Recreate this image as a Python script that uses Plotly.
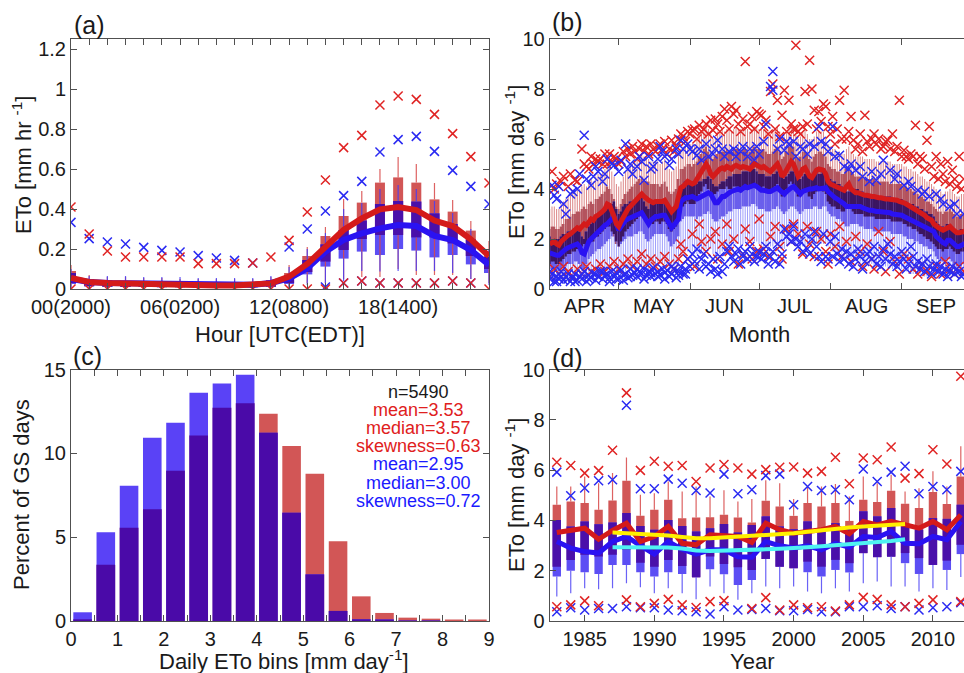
import plotly.graph_objects as go

W, H = 964, 673
FONT = "Liberation Sans, Arial, sans-serif"
INK = "#1a1a1a"
AXIS = "#505050"

RED_BOX = "#d25656"
BLUE_BOX = "#5c4ef4"
DARK_BOX = "#4a10aa"
RED_LINE = "#d41a1a"
BLUE_LINE = "#2a12f2"
RED_X = "#e02424"
BLUE_X = "#2a2af2"

# ---------------- (a) hourly ETo ----------------
hours = list(range(24))
hour_labels = {0: "00(2000)", 6: "06(0200)", 12: "12(0800)", 18: "18(1400)"}

red_med_a = [0.055, 0.035, 0.03, 0.027, 0.025, 0.022, 0.02, 0.019, 0.018, 0.018, 0.02, 0.028,
             0.062, 0.125, 0.21, 0.295, 0.353, 0.398, 0.41, 0.395, 0.342, 0.315, 0.248, 0.165]
blue_med_a = [0.05, 0.035, 0.03, 0.028, 0.026, 0.024, 0.022, 0.021, 0.02, 0.02, 0.021, 0.03,
              0.053, 0.103, 0.187, 0.245, 0.278, 0.303, 0.32, 0.315, 0.265, 0.245, 0.195, 0.12]
red_q1_a = [0.03, 0.015, 0.012, 0.01, 0.01, 0.01, 0.01, 0.01, 0.01, 0.01, 0.01, 0.012,
            0.03, 0.085, 0.137, 0.195, 0.25, 0.27, 0.27, 0.258, 0.258, 0.228, 0.165, 0.10]
red_q3_a = [0.09, 0.05, 0.045, 0.04, 0.04, 0.04, 0.035, 0.035, 0.035, 0.035, 0.035, 0.045,
            0.08, 0.165, 0.265, 0.365, 0.432, 0.532, 0.558, 0.532, 0.448, 0.387, 0.292, 0.19]
blue_q1_a = [0.025, 0.012, 0.01, 0.01, 0.01, 0.008, 0.008, 0.008, 0.008, 0.008, 0.008, 0.01,
             0.025, 0.073, 0.112, 0.152, 0.187, 0.17, 0.2, 0.192, 0.158, 0.17, 0.123, 0.08]
blue_q3_a = [0.08, 0.045, 0.04, 0.04, 0.035, 0.035, 0.035, 0.03, 0.03, 0.03, 0.03, 0.04,
             0.07, 0.145, 0.223, 0.295, 0.342, 0.425, 0.44, 0.437, 0.378, 0.325, 0.248, 0.16]
red_whi_a = [0.12, 0.07, 0.06, 0.06, 0.055, 0.055, 0.05, 0.05, 0.05, 0.05, 0.05, 0.06,
             0.12, 0.21, 0.31, 0.45, 0.49, 0.6, 0.66, 0.625, 0.53, 0.445, 0.34, 0.24]
blue_whi_a = [0.1, 0.065, 0.065, 0.065, 0.06, 0.06, 0.06, 0.055, 0.055, 0.055, 0.055, 0.065,
              0.11, 0.2, 0.28, 0.40, 0.43, 0.5, 0.52, 0.5, 0.44, 0.38, 0.3, 0.2]
red_wlo_a = [0, 0, 0, 0, 0, 0, 0, 0, 0, 0, 0, 0,
             0, 0.03, 0.03, 0.05, 0.06, 0.06, 0.1, 0.07, 0.07, 0.07, 0.05, 0.03]
blue_wlo_a = [0, 0, 0, 0, 0, 0, 0, 0, 0, 0, 0, 0,
              0, 0.02, 0.03, 0.04, 0.09, 0.087, 0.09, 0.09, 0.09, 0.08, 0.05, 0.02]
red_out_hi_a = [0.41, 0.275, 0.19, 0.16, 0.16, 0.16, 0.16, 0.127, 0.127, 0.127, 0.13, 0.16,
                0.243, 0.385, 0.545, 0.707, 0.768, 0.92, 0.965, 0.948, 0.873, 0.777, 0.662, 0.53]
blue_out_hi_a = [0.333, 0.252, 0.235, 0.225, 0.208, 0.193, 0.185, 0.167, 0.155, 0.143, 0.13, None,
                 0.21, 0.30, 0.39, 0.467, 0.538, 0.685, 0.747, 0.763, 0.688, 0.593, 0.513, 0.425]
red_out_lo_a = [0, 0, 0, 0, 0, 0, 0, 0, 0, 0, 0, 0,
                0, 0, 0, 0.03, 0.04, 0.03, 0.03, 0.03, 0.03, 0.04, 0.03, 0]
blue_out_lo_a = [None] * 14 + [0.01, 0.03, 0.04, 0.03, 0.03, 0.03, 0.03, 0.04, 0.03, None]

# ---------------- (b) daily ETo, Apr 1 - Sep 30 ----------------
month_names = ["APR", "MAY", "JUN", "JUL", "AUG", "SEP"]
month_start = [0, 30, 61, 91, 122, 153]
month_mid = [15, 45.5, 76, 106.5, 137.5, 168]

red_med_b = [
    1.8, 1.85, 1.9, 1.8, 1.75, 1.9, 2.0, 2.1, 2.15, 2.2, 2.3, 2.35, 2.45, 2.4, 2.5,
    2.6, 2.55, 2.7, 2.8, 2.75, 2.9, 2.95, 3.0, 3.1, 3.2, 3.4, 3.35, 3.15, 2.9, 2.6,
    2.5, 2.7, 2.9, 3.1, 3.2, 3.3, 3.4, 3.5, 3.6, 3.7, 3.8, 3.7, 3.6, 3.55, 3.5, 3.45,
    3.5, 3.5, 3.45, 3.5, 3.55, 3.4, 3.2, 3.1, 3.2, 3.3, 3.7, 4.05, 4.1, 4.2, 4.3,
    4.25, 4.2, 4.25, 4.4, 4.6, 4.75, 4.9, 5.0, 4.85, 4.6, 4.5, 4.6, 4.75, 4.8, 4.85,
    4.8, 4.9, 4.85, 4.8, 4.9, 4.95, 4.9, 4.85, 4.9, 4.9, 4.85, 4.8, 4.9, 5.0, 4.95,
    4.9, 4.85, 4.9, 4.8, 4.75, 4.7, 4.8, 4.9, 5.0, 4.8, 4.5, 4.6, 4.8, 5.0, 5.1, 5.0,
    4.7, 4.5, 4.6, 4.8, 4.85, 4.7, 4.5, 4.45, 4.6, 4.75, 4.8, 4.8, 4.75, 4.6, 4.3,
    4.2, 4.15, 4.1, 4.05, 4.0, 3.95, 3.95, 4.1, 4.2, 4.0, 3.9, 3.85, 3.85, 3.8, 3.8, 3.75,
    3.75, 3.7, 3.7, 3.7, 3.65, 3.65, 3.65, 3.6, 3.6, 3.6, 3.6, 3.55, 3.55, 3.55, 3.5,
    3.5, 3.45, 3.4, 3.35, 3.3, 3.25, 3.2, 3.15, 3.05, 3.0, 2.95, 2.85, 2.8, 2.75, 2.6,
    2.5, 2.45, 2.4, 2.35, 2.4, 2.45, 2.5, 2.4, 2.3, 2.25, 2.25, 2.3, 2.3, 2.25, 2.2,
]
red_q3_b = [
    2.4, 2.5, 2.5, 2.4, 2.4, 2.5, 2.6, 2.8, 2.8, 2.9, 3.0, 3.0, 3.1, 3.1, 3.2,
    3.3, 3.2, 3.4, 3.5, 3.4, 3.6, 3.6, 3.7, 3.8, 3.9, 4.1, 4.0, 3.8, 3.6, 3.3,
    3.2, 3.4, 3.6, 3.8, 3.9, 4.0, 4.1, 4.2, 4.3, 4.4, 4.5, 4.4, 4.3, 4.3, 4.2, 4.2,
    4.2, 4.2, 4.1, 4.2, 4.3, 4.1, 3.9, 3.8, 3.9, 4.0, 4.4, 4.8, 4.8, 4.9, 5.0,
    5.0, 4.9, 5.0, 5.1, 5.3, 5.4, 5.6, 5.7, 5.5, 5.3, 5.2, 5.3, 5.4, 5.5, 5.5,
    5.5, 5.6, 5.5, 5.5, 5.6, 5.6, 5.6, 5.5, 5.6, 5.6, 5.5, 5.5, 5.6, 5.7, 5.6,
    5.6, 5.5, 5.6, 5.5, 5.4, 5.4, 5.5, 5.6, 5.7, 5.5, 5.2, 5.3, 5.5, 5.7, 5.8, 5.7,
    5.4, 5.2, 5.3, 5.5, 5.5, 5.4, 5.2, 5.1, 5.3, 5.4, 5.5, 5.5, 5.4, 5.3, 5.0,
    4.9, 4.8, 4.8, 4.7, 4.7, 4.6, 4.6, 4.8, 4.9, 4.7, 4.6, 4.5, 4.5, 4.5, 4.5, 4.4,
    4.4, 4.4, 4.4, 4.4, 4.3, 4.3, 4.3, 4.3, 4.3, 4.3, 4.2, 4.2, 4.2, 4.2, 4.2,
    4.2, 4.1, 4.1, 4.0, 4.0, 3.9, 3.9, 3.8, 3.7, 3.7, 3.6, 3.5, 3.5, 3.4, 3.3,
    3.2, 3.1, 3.1, 3.0, 3.1, 3.1, 3.2, 3.1, 3.0, 2.9, 2.9, 3.0, 3.0, 2.9, 2.9,
]
red_q1_b = [
    1.0, 1.1, 1.1, 1.0, 1.0, 1.1, 1.2, 1.3, 1.4, 1.4, 1.5, 1.5, 1.6, 1.6, 1.7,
    1.8, 1.7, 1.9, 2.0, 1.9, 2.1, 2.1, 2.2, 2.3, 2.4, 2.6, 2.5, 2.3, 2.1, 1.8,
    1.7, 1.9, 2.1, 2.3, 2.4, 2.5, 2.6, 2.7, 2.8, 2.9, 3.0, 2.9, 2.8, 2.7, 2.7, 2.6,
    2.7, 2.7, 2.6, 2.7, 2.7, 2.6, 2.4, 2.3, 2.4, 2.5, 2.9, 3.2, 3.3, 3.4, 3.5,
    3.4, 3.4, 3.4, 3.6, 3.8, 3.9, 4.1, 4.2, 4.0, 3.8, 3.7, 3.8, 3.9, 4.0, 4.0,
    4.0, 4.1, 4.0, 4.0, 4.1, 4.1, 4.1, 4.0, 4.1, 4.1, 4.0, 4.0, 4.1, 4.2, 4.1,
    4.1, 4.0, 4.1, 4.0, 3.9, 3.9, 4.0, 4.1, 4.2, 4.0, 3.7, 3.8, 4.0, 4.2, 4.3, 4.2,
    3.9, 3.7, 3.8, 4.0, 4.0, 3.9, 3.7, 3.6, 3.8, 3.9, 4.0, 4.0, 3.9, 3.8, 3.5,
    3.4, 3.3, 3.3, 3.2, 3.2, 3.1, 3.1, 3.3, 3.4, 3.2, 3.1, 3.0, 3.0, 3.0, 3.0, 2.9,
    2.9, 2.9, 2.9, 2.9, 2.8, 2.8, 2.8, 2.8, 2.8, 2.8, 2.8, 2.7, 2.7, 2.7, 2.7,
    2.7, 2.6, 2.6, 2.5, 2.5, 2.4, 2.4, 2.3, 2.2, 2.2, 2.1, 2.0, 2.0, 1.9, 1.8,
    1.7, 1.6, 1.6, 1.5, 1.6, 1.6, 1.7, 1.6, 1.5, 1.4, 1.4, 1.5, 1.5, 1.4, 1.4,
]
red_whi_b = [
    3.2, 3.3, 3.3, 3.2, 3.2, 3.4, 3.5, 3.6, 3.7, 3.8, 3.9, 3.9, 4.0, 4.0, 4.1,
    4.2, 4.1, 4.3, 4.4, 4.3, 4.5, 4.6, 4.6, 4.7, 4.8, 5.0, 4.9, 4.7, 4.5, 4.2,
    4.1, 4.3, 4.5, 4.7, 4.8, 4.9, 5.0, 5.1, 5.2, 5.3, 5.4, 5.3, 5.2, 5.2, 5.1, 5.1,
    5.1, 5.1, 5.0, 5.1, 5.2, 5.0, 4.8, 4.7, 4.8, 4.9, 5.3, 5.6, 5.7, 5.8, 5.9,
    5.8, 5.8, 5.8, 6.0, 6.1, 6.3, 6.4, 6.5, 6.4, 6.2, 6.0, 6.1, 6.3, 6.3, 6.4,
    6.3, 6.4, 6.4, 6.3, 6.4, 6.5, 6.4, 6.4, 6.4, 6.4, 6.4, 6.3, 6.4, 6.5, 6.5,
    6.4, 6.4, 6.4, 6.3, 6.3, 6.2, 6.3, 6.4, 6.5, 6.3, 6.0, 6.1, 6.3, 6.5, 6.6, 6.5,
    6.2, 6.0, 6.1, 6.3, 6.4, 6.2, 6.0, 6.0, 6.1, 6.3, 6.3, 6.3, 6.3, 6.1, 5.8,
    5.7, 5.6, 5.6, 5.5, 5.5, 5.4, 5.4, 5.6, 5.7, 5.5, 5.4, 5.3, 5.3, 5.3, 5.3, 5.2,
    5.2, 5.2, 5.2, 5.2, 5.1, 5.1, 5.1, 5.1, 5.1, 5.1, 5.1, 5.0, 5.0, 5.0, 5.0,
    5.0, 4.9, 4.9, 4.8, 4.8, 4.7, 4.7, 4.6, 4.5, 4.5, 4.4, 4.3, 4.3, 4.2, 4.1,
    4.0, 3.9, 3.9, 3.8, 3.9, 3.9, 4.0, 3.9, 3.8, 3.7, 3.7, 3.8, 3.8, 3.7, 3.7,
]
blue_med_b = [
    1.45, 1.4, 1.4, 1.35, 1.35, 1.45, 1.55, 1.6, 1.65, 1.7, 1.7, 1.75, 1.8, 1.7, 1.45,
    1.4, 1.7, 1.9, 2.0, 2.1, 2.2, 2.3, 2.35, 2.45, 2.55, 2.6, 2.7, 2.8, 2.9, 2.6,
    2.35, 2.5, 2.65, 2.75, 2.8, 2.85, 2.85, 2.9, 2.95, 3.0, 3.05, 2.9, 2.7, 2.6, 2.75, 2.85,
    2.9, 2.9, 2.95, 2.95, 2.95, 2.8, 2.6, 2.45, 2.55, 2.65, 2.8, 3.5, 3.6, 3.65, 3.65,
    3.7, 3.7, 3.65, 3.6, 3.65, 3.7, 3.75, 3.8, 3.85, 3.8, 3.6, 3.45, 3.45, 3.6, 3.7,
    3.7, 3.8, 3.85, 3.9, 3.95, 4.0, 4.0, 3.95, 4.05, 4.1, 4.05, 4.1, 4.15, 4.15, 4.1,
    4.0, 3.95, 3.95, 3.9, 3.9, 3.9, 3.95, 4.0, 4.05, 3.95, 3.85, 3.8, 3.9, 4.0, 4.05, 4.1,
    4.0, 3.85, 3.8, 3.9, 3.95, 3.95, 4.0, 4.0, 4.05, 4.05, 4.0, 4.0, 4.05, 4.05, 3.9,
    3.8, 3.7, 3.65, 3.6, 3.55, 3.5, 3.4, 3.3, 3.3, 3.35, 3.35, 3.35, 3.35, 3.3, 3.25, 3.2,
    3.15, 3.15, 3.15, 3.1, 3.1, 3.1, 3.1, 3.05, 3.05, 3.05, 3.05, 3.0, 3.0, 3.0, 2.95,
    2.95, 2.9, 2.85, 2.8, 2.75, 2.75, 2.7, 2.65, 2.6, 2.55, 2.5, 2.45, 2.4, 2.35, 2.3,
    2.1, 2.0, 1.9, 1.85, 1.8, 1.95, 1.95, 1.85, 1.75, 1.7, 1.7, 1.75, 1.8, 1.75, 1.75,
]
blue_q3_b = [
    2.1, 2.0, 2.0, 2.0, 2.0, 2.1, 2.2, 2.2, 2.3, 2.3, 2.3, 2.4, 2.4, 2.3, 2.1,
    2.0, 2.3, 2.5, 2.6, 2.7, 2.8, 2.9, 3.0, 3.1, 3.2, 3.2, 3.3, 3.4, 3.5, 3.2,
    3.0, 3.1, 3.3, 3.4, 3.4, 3.5, 3.5, 3.5, 3.6, 3.6, 3.7, 3.5, 3.3, 3.2, 3.4, 3.5,
    3.5, 3.5, 3.6, 3.6, 3.6, 3.4, 3.2, 3.1, 3.2, 3.3, 3.4, 4.1, 4.2, 4.3, 4.3,
    4.3, 4.3, 4.3, 4.2, 4.3, 4.3, 4.4, 4.4, 4.5, 4.4, 4.2, 4.1, 4.1, 4.2, 4.3,
    4.3, 4.4, 4.5, 4.5, 4.6, 4.6, 4.6, 4.6, 4.7, 4.7, 4.7, 4.7, 4.8, 4.8, 4.7,
    4.6, 4.6, 4.6, 4.5, 4.5, 4.5, 4.6, 4.6, 4.7, 4.6, 4.5, 4.4, 4.5, 4.6, 4.7, 4.7,
    4.6, 4.5, 4.4, 4.5, 4.6, 4.6, 4.6, 4.6, 4.7, 4.7, 4.6, 4.6, 4.7, 4.7, 4.5,
    4.4, 4.3, 4.3, 4.2, 4.2, 4.1, 4.0, 3.9, 3.9, 4.0, 4.0, 4.0, 4.0, 3.9, 3.9, 3.8,
    3.8, 3.8, 3.8, 3.7, 3.7, 3.7, 3.7, 3.7, 3.7, 3.7, 3.7, 3.6, 3.6, 3.6, 3.6,
    3.6, 3.5, 3.5, 3.4, 3.4, 3.4, 3.3, 3.3, 3.2, 3.2, 3.1, 3.1, 3.0, 3.0, 2.9,
    2.7, 2.6, 2.5, 2.5, 2.4, 2.6, 2.6, 2.5, 2.4, 2.3, 2.3, 2.4, 2.4, 2.4, 2.4,
]
blue_q1_b = [
    0.8, 0.8, 0.8, 0.7, 0.7, 0.8, 0.9, 0.9, 1.0, 1.0, 1.0, 1.1, 1.1, 1.0, 0.8,
    0.8, 1.0, 1.2, 1.3, 1.4, 1.5, 1.6, 1.6, 1.7, 1.8, 1.9, 2.0, 2.1, 2.2, 1.9,
    1.7, 1.8, 1.9, 2.0, 2.1, 2.1, 2.1, 2.2, 2.2, 2.3, 2.3, 2.2, 2.0, 1.9, 2.0, 2.1,
    2.2, 2.2, 2.2, 2.2, 2.2, 2.1, 1.9, 1.7, 1.8, 1.9, 2.1, 2.7, 2.8, 2.9, 2.9,
    2.9, 2.9, 2.9, 2.8, 2.9, 2.9, 3.0, 3.0, 3.1, 3.0, 2.8, 2.7, 2.7, 2.8, 2.9,
    2.9, 3.0, 3.1, 3.1, 3.2, 3.2, 3.2, 3.2, 3.3, 3.3, 3.3, 3.3, 3.4, 3.4, 3.3,
    3.2, 3.2, 3.2, 3.1, 3.1, 3.1, 3.2, 3.2, 3.3, 3.2, 3.1, 3.0, 3.1, 3.2, 3.3, 3.3,
    3.2, 3.1, 3.0, 3.1, 3.2, 3.2, 3.2, 3.2, 3.3, 3.3, 3.2, 3.2, 3.3, 3.3, 3.1,
    3.0, 2.9, 2.9, 2.8, 2.8, 2.7, 2.6, 2.5, 2.5, 2.6, 2.6, 2.6, 2.6, 2.5, 2.5, 2.4,
    2.4, 2.4, 2.4, 2.3, 2.3, 2.3, 2.3, 2.3, 2.3, 2.3, 2.3, 2.2, 2.2, 2.2, 2.2,
    2.2, 2.1, 2.1, 2.0, 2.0, 2.0, 1.9, 1.9, 1.8, 1.8, 1.7, 1.7, 1.6, 1.6, 1.5,
    1.3, 1.2, 1.1, 1.1, 1.0, 1.2, 1.2, 1.1, 1.0, 0.9, 0.9, 1.0, 1.0, 1.0, 1.0,
]
blue_wlo_b = [
    0.5, 0.5, 0.5, 0.5, 0.5, 0.5, 0.5, 0.5, 0.5, 0.5, 0.5, 0.5, 0.5, 0.5, 0.5,
    0.5, 0.5, 0.5, 0.5, 0.5, 0.5, 0.5, 0.5, 0.5, 0.5, 0.6, 0.7, 0.8, 0.9, 0.7,
    0.6, 0.6, 0.7, 0.7, 0.8, 0.8, 0.8, 0.9, 0.9, 1.0, 1.0, 0.9, 0.8, 0.7, 0.8, 0.9,
    0.9, 0.9, 1.0, 1.0, 1.0, 0.9, 0.7, 0.6, 0.7, 0.8, 0.9, 1.3, 1.4, 1.5, 1.5,
    1.5, 1.5, 1.4, 1.4, 1.4, 1.5, 1.5, 1.6, 1.6, 1.6, 1.4, 1.3, 1.3, 1.4, 1.5,
    1.5, 1.6, 1.6, 1.7, 1.7, 1.8, 1.8, 1.7, 1.8, 1.9, 1.8, 1.9, 1.9, 1.9, 1.9,
    1.8, 1.7, 1.7, 1.7, 1.7, 1.7, 1.7, 1.8, 1.8, 1.7, 1.6, 1.6, 1.7, 1.8, 1.8, 1.9,
    1.8, 1.6, 1.6, 1.7, 1.7, 1.7, 1.8, 1.8, 1.8, 1.8, 1.8, 1.8, 1.8, 1.8, 1.7,
    1.6, 1.5, 1.5, 1.4, 1.4, 1.3, 1.2, 1.1, 1.1, 1.2, 1.2, 1.2, 1.2, 1.1, 1.1, 1.0,
    1.0, 1.0, 1.0, 0.9, 0.9, 0.9, 0.9, 0.9, 0.9, 0.9, 0.9, 0.8, 0.8, 0.8, 0.8,
    0.8, 0.7, 0.7, 0.7, 0.6, 0.6, 0.6, 0.6, 0.6, 0.6, 0.5, 0.5, 0.5, 0.5, 0.5,
    0.5, 0.5, 0.5, 0.5, 0.5, 0.5, 0.5, 0.5, 0.5, 0.5, 0.5, 0.5, 0.5, 0.5, 0.5,
]

# outliers as (day index, mm/day)
red_out_hi_b = [
    (1, 4.7), (2, 4.0), (5, 4.3), (8, 4.1), (11, 4.35), (14, 5.6), (16, 4.9), (18, 5.3),
    (21, 5.1), (23, 5.0), (26, 5.4), (28, 5.3), (30, 5.0), (33, 5.3), (36, 5.7), (39, 5.6),
    (42, 5.7), (45, 5.6), (48, 5.8), (51, 5.4), (53, 5.95), (55, 5.7), (58, 6.1), (60, 6.3),
    (62, 6.35), (65, 6.55), (67, 6.4), (70, 6.75), (71, 6.35), (73, 6.6), (75, 6.9), (77, 6.75),
    (79, 7.3), (81, 7.15), (82, 6.6), (85, 9.1), (86, 6.5), (88, 6.9), (90, 7.1), (92, 6.95),
    (94, 6.75), (96, 7.9), (97, 8.2), (99, 7.55), (101, 6.95), (102, 7.95), (104, 7.55),
    (107, 9.75), (107, 6.4), (110, 6.5), (111, 7.9), (113, 9.15), (114, 8.0), (115, 7.15),
    (117, 7.1), (119, 7.4), (120, 7.3), (123, 6.9), (126, 7.55), (128, 7.95), (129, 6.0),
    (132, 5.95), (135, 6.2), (137, 6.95), (140, 6.0), (142, 5.8), (145, 5.7), (147, 5.95),
    (149, 6.2), (152, 7.55), (154, 5.55), (157, 5.4), (159, 6.55), (161, 5.3), (164, 5.95),
    (165, 6.5), (168, 5.3), (170, 5.0), (173, 5.1), (175, 4.75), (178, 5.3),
    (3, 4.2), (6, 4.5), (9, 4.6), (12, 4.3), (15, 5.0), (17, 4.8), (19, 5.0), (20, 5.2),
    (22, 5.2), (24, 5.4), (25, 5.0), (27, 5.1), (29, 5.2), (31, 5.1), (32, 5.5), (34, 5.6),
    (35, 5.4), (37, 5.5), (38, 5.2), (40, 5.8), (41, 5.5), (43, 5.4), (44, 5.8), (46, 5.5),
    (47, 5.7), (49, 5.6), (50, 5.9), (52, 5.6), (54, 5.5), (56, 6.0), (57, 6.2), (59, 5.9),
    (61, 6.2), (63, 6.4), (64, 6.0), (66, 6.3), (68, 6.6), (69, 6.2), (72, 6.8), (74, 6.3),
    (76, 7.2), (78, 6.4), (80, 7.0), (83, 6.3), (84, 6.8), (87, 6.6), (89, 6.4), (91, 7.0),
    (93, 6.5), (95, 6.2), (98, 6.4), (100, 6.1), (103, 6.3), (105, 6.6), (106, 6.4), (108, 6.3),
    (109, 6.2), (112, 6.6), (116, 6.4), (118, 6.7), (121, 6.5), (122, 6.2), (124, 5.8),
    (125, 6.4), (127, 6.0), (130, 6.3), (131, 6.9), (133, 5.6), (134, 5.8), (136, 5.5),
    (138, 5.9), (139, 5.7), (141, 6.2), (143, 6.0), (144, 5.6), (146, 5.9), (148, 5.6),
    (150, 5.5), (151, 5.7), (153, 5.3), (155, 5.3), (156, 5.2), (158, 5.3), (160, 5.0),
    (162, 5.2), (163, 4.8), (166, 4.9), (167, 4.5), (169, 4.4), (171, 4.6), (172, 4.3),
    (174, 4.2), (176, 4.4), (177, 4.1), (179, 4.0), (180, 4.4),
]
blue_out_hi_b = [
    (1, 4.15), (2, 3.75), (4, 4.1), (7, 3.0), (10, 3.9), (13, 4.6), (15, 6.15), (18, 4.15),
    (20, 4.9), (23, 4.3), (25, 5.2), (28, 4.95), (31, 5.15), (33, 5.8), (34, 4.8), (36, 4.6),
    (39, 5.3), (41, 4.35), (43, 5.3), (45, 4.9), (48, 5.7), (50, 5.3), (52, 4.95), (55, 5.6),
    (57, 5.95), (60, 5.8), (62, 5.5), (64, 5.35), (66, 5.15), (68, 5.8), (71, 5.4), (73, 5.95),
    (76, 5.3), (78, 5.5), (81, 5.3), (84, 5.7), (86, 5.3), (89, 5.15), (91, 5.4), (94, 6.6),
    (96, 8.1), (97, 8.7), (97, 7.95), (100, 6.0), (102, 5.55), (104, 5.8), (107, 5.3),
    (109, 5.7), (112, 5.4), (115, 5.7), (117, 6.5), (120, 5.8), (123, 6.5), (126, 5.35),
    (128, 4.9), (131, 5.0), (133, 4.75), (136, 4.5), (139, 4.3), (142, 4.35), (145, 5.15),
    (148, 4.75), (151, 4.6), (154, 4.15), (157, 4.1), (160, 3.95), (162, 3.8), (165, 3.7),
    (168, 3.8), (171, 3.4), (174, 3.3), (177, 3.0), (180, 3.0),
    (3, 3.6), (6, 3.4), (9, 3.8), (12, 4.0), (16, 4.4), (19, 4.5), (21, 4.7), (24, 4.6),
    (27, 5.0), (30, 4.7), (35, 5.0), (38, 4.9), (40, 5.1), (44, 4.8), (47, 5.2), (49, 5.5),
    (53, 5.2), (56, 5.4), (58, 5.6), (61, 5.6), (65, 5.6), (69, 5.3), (72, 5.6), (75, 5.6),
    (80, 5.6), (83, 5.5), (87, 5.6), (90, 5.7), (93, 5.9), (99, 5.6), (103, 5.9), (106, 5.9),
    (110, 5.6), (113, 5.8), (118, 5.9), (121, 5.5), (124, 5.3), (130, 4.8), (135, 4.9),
    (140, 4.7), (144, 4.6), (150, 4.4), (156, 4.3), (163, 3.9), (170, 3.6), (176, 3.4),
]
red_out_lo_b = [
    (0, 0.5), (2, 0.8), (4, 0.6), (6, 0.9), (8, 0.7), (10, 0.5), (12, 0.8), (14, 0.6),
    (16, 0.9), (18, 0.7), (20, 0.8), (22, 1.0), (24, 0.7), (26, 0.9), (28, 1.1), (30, 0.8),
    (32, 1.0), (34, 1.2), (36, 0.9), (38, 1.1), (40, 1.4), (42, 1.0), (44, 1.2), (46, 0.9),
    (48, 1.1), (50, 1.3), (52, 1.0), (54, 0.8), (56, 1.2), (57, 1.8), (58, 1.5), (60, 1.2),
    (62, 2.2), (63, 0.9), (65, 2.6), (66, 1.9), (68, 1.5), (70, 2.0), (72, 2.3), (73, 1.2),
    (75, 1.8), (77, 2.6), (78, 1.5), (80, 2.0), (82, 1.0), (84, 1.4), (85, 2.4), (87, 1.9),
    (88, 1.2), (90, 1.5), (91, 2.8), (93, 1.6), (95, 1.3), (96, 2.1), (98, 2.5), (100, 1.7),
    (101, 1.2), (103, 2.4), (105, 1.9), (106, 2.6), (108, 2.2), (110, 1.4), (112, 2.5),
    (113, 1.8), (115, 1.3), (116, 2.3), (118, 2.0), (120, 1.5), (121, 1.0), (122, 2.2),
    (124, 1.7), (126, 2.5), (127, 1.3), (129, 1.9), (131, 1.1), (133, 2.1), (135, 1.5),
    (136, 0.9), (138, 1.8), (140, 1.2), (141, 0.8), (143, 2.3), (145, 1.5), (146, 0.7),
    (148, 1.9), (150, 1.1), (152, 0.6), (154, 1.4), (156, 1.2), (158, 0.8), (160, 0.6),
    (162, 1.0), (164, 0.7), (166, 0.5), (168, 0.9), (170, 0.6), (172, 1.1), (174, 0.8),
    (176, 0.6), (178, 0.9), (180, 0.7),
]
blue_out_lo_b = [
    (0, 0.4), (1, 0.6), (2, 0.3), (3, 0.5), (4, 0.4), (5, 0.7), (6, 0.35), (7, 0.5), (8, 0.6),
    (9, 0.3), (10, 0.45), (11, 0.6), (12, 0.35), (13, 0.5), (14, 0.4), (15, 0.7), (16, 0.3),
    (17, 0.55), (18, 0.45), (19, 0.6), (20, 0.35), (21, 0.5), (22, 0.7), (23, 0.4), (24, 0.55),
    (25, 0.6), (26, 0.45), (27, 0.7), (28, 0.5), (29, 0.65), (30, 0.4), (31, 0.75), (32, 0.55),
    (33, 0.6), (34, 0.45), (35, 0.8), (36, 0.55), (37, 0.65), (38, 0.5), (39, 0.7), (40, 0.6),
    (41, 0.8), (42, 0.55), (43, 0.7), (44, 0.5), (45, 0.85), (46, 0.6), (47, 0.7), (48, 0.55),
    (49, 0.8), (50, 0.65), (51, 0.75), (52, 0.5), (53, 0.6), (54, 0.8), (55, 0.45), (56, 0.7),
    (57, 0.9), (58, 0.6), (59, 0.8), (60, 1.2), (61, 0.9), (62, 1.4), (63, 1.1), (64, 1.6),
    (65, 0.8), (66, 1.2), (67, 1.4), (68, 0.9), (69, 1.0), (70, 0.7), (71, 1.2), (72, 0.8),
    (73, 0.6), (74, 1.3), (75, 0.7), (76, 1.0), (77, 1.5), (78, 1.7), (79, 1.3), (80, 1.1),
    (81, 1.4), (82, 1.6), (83, 1.0), (84, 1.3), (85, 1.5), (86, 1.2), (87, 1.7), (88, 1.4),
    (89, 1.1), (90, 1.3), (91, 1.5), (92, 1.2), (93, 1.4), (94, 1.7), (95, 1.0), (96, 1.3),
    (97, 1.5), (98, 1.1), (99, 1.8), (100, 1.0), (101, 1.4), (102, 2.4), (103, 2.1), (104, 2.2),
    (105, 1.9), (106, 2.5), (107, 2.0), (108, 1.7), (109, 1.9), (110, 1.5), (111, 2.2),
    (112, 1.6), (113, 1.4), (114, 2.0), (115, 2.3), (116, 1.7), (117, 1.3), (118, 1.1),
    (119, 2.2), (120, 1.3), (121, 1.2), (122, 1.9), (123, 1.3), (124, 2.1), (125, 1.4),
    (126, 1.1), (127, 1.6), (128, 1.2), (129, 1.5), (130, 1.0), (131, 1.4), (132, 0.9),
    (133, 1.2), (134, 1.6), (135, 1.3), (136, 0.8), (137, 1.1), (138, 1.4), (139, 1.5),
    (140, 1.2), (141, 1.7), (142, 1.0), (143, 1.3), (144, 0.9), (145, 1.6), (146, 1.2),
    (147, 1.8), (148, 1.4), (149, 1.0), (150, 1.3), (151, 0.9), (152, 1.1), (153, 1.5),
    (154, 1.2), (155, 0.8), (156, 1.0), (157, 1.7), (158, 1.3), (159, 0.9), (160, 1.1),
    (161, 0.8), (162, 1.0), (163, 0.7), (164, 1.2), (165, 0.9), (166, 0.6), (167, 0.8),
    (168, 1.0), (169, 0.7), (170, 0.9), (171, 0.6), (172, 0.8), (173, 0.5), (174, 0.7),
    (175, 0.9), (176, 0.6), (177, 0.8), (178, 0.7), (179, 0.5), (180, 0.6),
    (0, 0.7), (3, 0.3), (5, 0.5), (8, 0.4), (11, 0.3), (14, 0.6), (17, 0.4), (20, 0.6),
    (23, 0.7), (26, 0.3), (29, 0.4), (32, 0.35), (35, 0.5), (38, 0.8), (41, 0.4), (44, 0.65),
    (47, 0.5), (50, 0.4), (53, 0.9), (56, 0.55), (59, 0.6),
]

# ---------------- (c) histogram of daily ETo ----------------
bin_centers = [0.25, 0.75, 1.25, 1.75, 2.25, 2.75, 3.25, 3.75, 4.25,
               4.75, 5.25, 5.75, 6.25, 6.75, 7.25, 7.75, 8.25, 8.75]
blue_pct = [0.52, 5.30, 8.07, 10.93, 11.82, 13.61, 14.17, 14.68, 11.23,
            6.46, 2.78, 0.60, 0.10, 0.06, 0.02, 0.01, 0.0, 0.0]
red_pct = [0.10, 3.36, 5.56, 6.66, 8.96, 11.07, 12.72, 12.99, 12.36,
           10.43, 8.78, 4.75, 1.47, 0.48, 0.20, 0.14, 0.06, 0.06]
stats_lines = [("n=5490", INK), ("mean=3.53", "#e02020"), ("median=3.57", "#e02020"),
               ("skewness=0.63", "#e02020"), ("mean=2.95", "#1a1aff"),
               ("median=3.00", "#1a1aff"), ("skewness=0.72", "#1a1aff")]

# ---------------- (d) yearly ETo ----------------
years = list(range(1983, 2013))
red_med_d = [3.52, 3.6, 3.69, 3.25, 3.6, 3.89, 3.16, 3.36, 3.76, 3.09, 3.03, 3.43, 3.39, 3.36, 3.12,
             3.89, 3.63, 3.49, 3.56, 3.63, 3.76, 3.47, 3.96, 3.82, 3.96, 3.82, 3.69, 3.96, 3.63, 4.22]
blue_med_d = [3.16, 2.9, 2.76, 2.7, 3.16, 3.36, 3.0, 2.66, 3.16, 2.85, 2.66, 2.83, 2.83, 2.55, 2.54,
              3.16, 2.99, 2.9, 2.99, 2.83, 3.09, 2.93, 3.36, 3.32, 3.56, 3.09, 3.07, 3.36, 3.23, 3.96]
red_q3_d = [4.62, 4.75, 4.69, 4.42, 4.79, 5.58, 4.18, 4.42, 4.82, 4.09, 4.12, 4.13, 4.22, 4.12, 3.92,
            4.78, 4.55, 4.18, 4.69, 4.55, 4.69, 3.98, 4.82, 4.73, 5.18, 4.66, 4.49, 5.13, 4.65, 5.75]
blue_q3_d = [4.02, 3.76, 3.96, 3.85, 3.92, 4.29, 3.78, 3.63, 4.02, 3.78, 3.56, 3.69, 3.86, 3.52, 3.82,
             4.16, 3.76, 3.65, 3.96, 3.63, 3.89, 3.72, 4.36, 4.16, 4.49, 3.76, 3.63, 4.09, 4.06, 4.62]
red_q1_d = [2.16, 2.43, 2.63, 2.56, 2.63, 2.83, 2.32, 2.16, 2.43, 2.19, 1.74, 2.56, 2.27, 2.14, 2.03,
            2.47, 2.16, 2.10, 2.36, 2.16, 2.43, 2.30, 2.70, 2.54, 2.56, 2.70, 2.50, 2.23, 2.40, 3.03]
blue_q1_d = [1.77, 2.0, 1.94, 1.87, 2.23, 2.23, 1.94, 1.77, 1.94, 1.87, 1.74, 2.06, 1.86, 1.43, 1.63,
             2.47, 2.16, 2.10, 1.94, 1.77, 2.03, 1.93, 2.70, 2.54, 2.56, 2.30, 1.87, 2.23, 2.03, 2.66]
red_whi_d = [5.35, 5.35, 5.75, 5.48, 5.88, 6.5, 5.02, 5.08, 5.55, 5.15, 5.35, 4.95, 5.2, 4.75, 4.85,
             5.6, 5.48, 4.85, 5.35, 5.35, 5.45, 4.95, 5.75, 5.48, 5.82, 5.15, 5.28, 5.95, 5.35, 6.95]
blue_wlo_d = [0.97, 1.1, 1.3, 1.26, 1.3, 1.5, 1.34, 1.1, 1.3, 1.1, 0.86, 1.37, 1.1, 0.84, 1.1,
              1.37, 1.3, 1.37, 1.17, 1.1, 1.3, 1.17, 1.5, 1.57, 1.37, 1.37, 1.17, 1.3, 1.23, 1.75]
red_out_hi_d = [6.31, 6.18, 5.88, 5.98, 6.79, 9.07, 5.99, 6.35, 6.15, 6.18, 5.55, 6.08, 6.22, 6.08, 5.84,
                6.02, 6.11, 6.12, 5.88, 5.95, 6.51, 5.46, 6.48, 6.41, 6.92, 5.68, 5.86, 6.81, 6.24, 9.73]
blue_out_hi_d = [5.92, 4.98, 5.29, 5.58, 5.62, 8.58, 5.26, 5.26, 5.64, 5.48, 5.19, 5.09, 5.84, 5.06, 5.22,
                 5.78, 5.84, 4.62, 5.35, 5.19, 5.22, 4.82, 6.04, 5.55, 5.92, 6.15, 5.06, 5.35, 5.22, 5.95]
red_out_lo_d = [0.57, 0.64, 0.8, 0.61, None, 0.84, 0.57, 0.7, 0.86, 0.64, 0.54, 0.77, 0.81, None, 0.5,
                0.93, 0.44, 0.64, 0.53, 0.57, 0.4, 0.64, 0.94, 0.86, 0.64, 0.57, 0.7, 0.84, None, 0.77]
blue_out_lo_d = [0.37, 0.53, 0.44, 0.5, 0.5, 0.57, 0.53, 0.53, 0.44, 0.41, 0.37, 0.28, 0.57, 0.44, 0.46,
                 0.5, 0.41, 0.41, 0.46, 0.37, 0.37, 0.57, 0.57, 0.61, 0.5, 0.57, 0.44, 0.53, 0.57, 0.73]
trend_years = list(range(1987, 2009))
red_trend_d = [3.52, 3.50, 3.47, 3.44, 3.40, 3.34, 3.29, 3.29, 3.32, 3.34, 3.37,
               3.42, 3.45, 3.49, 3.55, 3.61, 3.68, 3.72, 3.76, 3.79, 3.82, 3.86]
blue_trend_d = [2.93, 2.93, 2.93, 2.93, 2.92, 2.88, 2.80, 2.78, 2.79, 2.80, 2.82,
                2.85, 2.87, 2.89, 2.93, 2.97, 3.01, 3.05, 3.09, 3.13, 3.18, 3.25]


# ---------------- helpers ----------------
def boxes(x, lo, hi, color, width, xa, ya):
    return go.Bar(x=x, y=[h - l for l, h in zip(lo, hi)], base=lo, width=width,
                  marker=dict(color=color, line=dict(width=0)),
                  xaxis=xa, yaxis=ya, showlegend=False, hoverinfo="skip")


def overlap_boxes(x, lo1, hi1, lo2, hi2, color, width, xa, ya):
    lo = [max(a, b) for a, b in zip(lo1, lo2)]
    hi = [min(a, b) for a, b in zip(hi1, hi2)]
    hi = [h if h > l else l for l, h in zip(lo, hi)]
    return boxes(x, lo, hi, color, width, xa, ya)


def stems(x, lo, hi, color, width, xa, ya):
    xs, ys = [], []
    for xv, a, b in zip(x, lo, hi):
        xs += [xv, xv, None]
        ys += [a, b, None]
    return go.Scatter(x=xs, y=ys, mode="lines", line=dict(color=color, width=width),
                      xaxis=xa, yaxis=ya, showlegend=False, hoverinfo="skip")


def crosses(x, y, color, size, xa, ya):
    return go.Scatter(x=x, y=y, mode="markers",
                      marker=dict(symbol="x-thin", size=size, color=color,
                                  line=dict(width=1.5, color=color)),
                      xaxis=xa, yaxis=ya, showlegend=False, hoverinfo="skip")


def curve(x, y, color, width, xa, ya):
    return go.Scatter(x=x, y=y, mode="lines", line=dict(color=color, width=width),
                      xaxis=xa, yaxis=ya, showlegend=False, hoverinfo="skip")


fig = go.Figure()

# (a)
fig.add_trace(boxes(hours, red_q1_a, red_q3_a, RED_BOX, 0.55, "x", "y"))
fig.add_trace(boxes(hours, blue_q1_a, blue_q3_a, BLUE_BOX, 0.55, "x", "y"))
fig.add_trace(overlap_boxes(hours, red_q1_a, red_q3_a, blue_q1_a, blue_q3_a, DARK_BOX, 0.55, "x", "y"))
fig.add_trace(stems(hours, red_q3_a, red_whi_a, "rgba(215,70,70,0.85)", 1.2, "x", "y"))
fig.add_trace(stems(hours, red_wlo_a, red_q1_a, "rgba(215,70,70,0.85)", 1.2, "x", "y"))
fig.add_trace(stems(hours, blue_q3_a, blue_whi_a, "rgba(70,60,245,0.85)", 1.2, "x", "y"))
fig.add_trace(stems(hours, blue_wlo_a, blue_q1_a, "rgba(70,60,245,0.85)", 1.2, "x", "y"))
fig.add_trace(crosses(hours, blue_out_hi_a, BLUE_X, 9, "x", "y"))
fig.add_trace(crosses(hours, red_out_hi_a, RED_X, 9, "x", "y"))
fig.add_trace(crosses(hours, blue_out_lo_a, BLUE_X, 9, "x", "y"))
fig.add_trace(crosses(hours, red_out_lo_a, RED_X, 9, "x", "y"))
fig.add_trace(curve(hours, blue_med_a, BLUE_LINE, 6, "x", "y"))
fig.add_trace(curve(hours, red_med_a, RED_LINE, 6, "x", "y"))

# (b)
days = list(range(len(red_med_b)))
fig.add_trace(boxes(days, red_q1_b, red_q3_b, "#b4545e", 0.85, "x2", "y2"))
fig.add_trace(boxes(days, blue_q1_b, blue_q3_b, "#6a5fec", 0.85, "x2", "y2"))
fig.add_trace(overlap_boxes(days, red_q1_b, red_q3_b, blue_q1_b, blue_q3_b, "#3c1662", 0.85, "x2", "y2"))
fig.add_trace(stems(days, red_q3_b, red_whi_b, "rgba(205,85,85,0.7)", 1, "x2", "y2"))
fig.add_trace(stems(days, blue_wlo_b, blue_q1_b, "rgba(120,120,250,0.7)", 1, "x2", "y2"))
fig.add_trace(crosses([d for d, _ in red_out_lo_b], [v for _, v in red_out_lo_b], RED_X, 9, "x2", "y2"))
fig.add_trace(crosses([d for d, _ in blue_out_lo_b], [v for _, v in blue_out_lo_b], BLUE_X, 9, "x2", "y2"))
fig.add_trace(crosses([d for d, _ in red_out_hi_b], [v for _, v in red_out_hi_b], RED_X, 9, "x2", "y2"))
fig.add_trace(crosses([d for d, _ in blue_out_hi_b], [v for _, v in blue_out_hi_b], BLUE_X, 9, "x2", "y2"))
fig.add_trace(curve(days, blue_med_b, BLUE_LINE, 5, "x2", "y2"))
fig.add_trace(curve(days, red_med_b, RED_LINE, 5, "x2", "y2"))

# (c)
both_pct = [min(a, b) for a, b in zip(red_pct, blue_pct)]
fig.add_trace(go.Bar(x=bin_centers, y=red_pct, width=0.4, marker=dict(color=RED_BOX, line=dict(width=0)),
                     xaxis="x3", yaxis="y3", showlegend=False, hoverinfo="skip"))
fig.add_trace(go.Bar(x=bin_centers, y=blue_pct, width=0.4, marker=dict(color="#5a42f6", line=dict(width=0)),
                     xaxis="x3", yaxis="y3", showlegend=False, hoverinfo="skip"))
fig.add_trace(go.Bar(x=bin_centers, y=both_pct, width=0.4, marker=dict(color="#4a0aa8", line=dict(width=0)),
                     xaxis="x3", yaxis="y3", showlegend=False, hoverinfo="skip"))

# (d)
fig.add_trace(boxes(years, red_q1_d, red_q3_d, RED_BOX, 0.6, "x4", "y4"))
fig.add_trace(boxes(years, blue_q1_d, blue_q3_d, BLUE_BOX, 0.6, "x4", "y4"))
fig.add_trace(overlap_boxes(years, red_q1_d, red_q3_d, blue_q1_d, blue_q3_d, DARK_BOX, 0.6, "x4", "y4"))
fig.add_trace(stems(years, red_q3_d, red_whi_d, "rgba(215,70,70,0.85)", 1.2, "x4", "y4"))
fig.add_trace(stems(years, blue_wlo_d, blue_q1_d, "rgba(80,70,245,0.85)", 1.2, "x4", "y4"))
fig.add_trace(crosses(years, blue_out_hi_d, BLUE_X, 9, "x4", "y4"))
fig.add_trace(crosses(years, red_out_hi_d, RED_X, 9, "x4", "y4"))
fig.add_trace(crosses(years, blue_out_lo_d, BLUE_X, 9, "x4", "y4"))
fig.add_trace(crosses(years, red_out_lo_d, RED_X, 9, "x4", "y4"))
fig.add_trace(curve(years, blue_med_d, BLUE_LINE, 5, "x4", "y4"))
fig.add_trace(curve(years, red_med_d, RED_LINE, 5, "x4", "y4"))
fig.add_trace(curve(trend_years, blue_trend_d, "#4ff2f2", 4, "x4", "y4"))
fig.add_trace(curve(trend_years, red_trend_d, "#fff000", 4, "x4", "y4"))

# ---------------- layout ----------------
def px_x(p):
    return p / W


def px_y(p):
    return 1 - p / H


XA = [px_x(71), px_x(489)]
XB = [px_x(549.7), 1.0]
Y_TOP = [px_y(289), px_y(39)]
Y_BOT = [px_y(621), px_y(369.5)]

tick_font = dict(family=FONT, size=20, color=INK)
common = dict(showline=True, linecolor=AXIS, linewidth=1, ticks="inside", ticklen=6,
              tickcolor=AXIS, tickwidth=1, showgrid=False, zeroline=False, tickfont=tick_font,
              fixedrange=True, automargin=False)

fig.update_layout(
    width=W, height=H, autosize=False,
    margin=dict(l=0, r=0, t=0, b=0, pad=0, autoexpand=False),
    paper_bgcolor="white", plot_bgcolor="white",
    barmode="overlay", showlegend=False,
    font=dict(family=FONT, color=INK),
    xaxis=dict(domain=XA, anchor="y", range=[0, 23], tickvals=hours,
               ticktext=[hour_labels.get(h, "") for h in hours], mirror="ticks", **common),
    yaxis=dict(domain=Y_TOP, anchor="x", range=[0, 1.25], tickvals=[0, 0.2, 0.4, 0.6, 0.8, 1, 1.2],
               ticktext=["0", "0.2", "0.4", "0.6", "0.8", "1", "1.2"], mirror="ticks", **common),
    xaxis2=dict(domain=XB, anchor="y2", range=[0, 180.1], tickvals=month_start[1:],
                ticktext=[""] * 5, mirror="ticks", **common),
    yaxis2=dict(domain=Y_TOP, anchor="x2", range=[0, 10], tickvals=[0, 2, 4, 6, 8, 10],
                mirror=False, **common),
    xaxis3=dict(domain=XA, anchor="y3", range=[0, 9],
                tickvals=[0, 0.5, 1, 1.5, 2, 2.5, 3, 3.5, 4, 4.5, 5, 5.5, 6, 6.5, 7, 7.5, 8, 8.5, 9],
                ticktext=["0", "", "1", "", "2", "", "3", "", "4", "", "5", "", "6", "", "7", "", "8", "", "9"],
                mirror="ticks", **common),
    yaxis3=dict(domain=Y_BOT, anchor="x3", range=[0, 15], tickvals=[0, 5, 10, 15],
                mirror="ticks", **common),
    xaxis4=dict(domain=XB, anchor="y4", range=[1982.49, 2012.23],
                tickvals=[1985, 1990, 1995, 2000, 2005, 2010], mirror="ticks", **common),
    yaxis4=dict(domain=Y_BOT, anchor="x4", range=[0, 10], tickvals=[0, 2, 4, 6, 8, 10],
                mirror=False, **common),
)

ann = []


def text(xp, yp, s, size=22, color=INK, angle=0, xref="paper"):
    ann.append(dict(x=xp if xref != "paper" else px_x(xp), y=px_y(yp), xref=xref, yref="paper",
                    text=s, showarrow=False, textangle=angle, xanchor="center", yanchor="middle",
                    font=dict(family=FONT, size=size, color=color)))


# month names under panel (b)
for name, mid in zip(month_names, month_mid):
    text(mid, 306, name, size=20, xref="x2")

# panel tags
text(89, 25, "(a)", size=25)
text(567, 22, "(b)", size=25)
text(87, 356, "(c)", size=25)
text(567, 358, "(d)", size=25)

# axis titles
text(280, 334, "Hour [UTC(EDT)]")
text(22, 165, "ETo [mm hr <sup>-1</sup>]", angle=-90)
text(759, 334, "Month")
text(515, 162, "ETo [mm day <sup>-1</sup>]", angle=-90)
text(284, 660, "Daily ETo bins [mm day<sup>-1</sup>]")
text(21, 495, "Percent of GS days", angle=-90)
text(752, 661, "Year")
text(515, 495, "ETo [mm day <sup>-1</sup>]", angle=-90)

# summary statistics in panel (c)
for i, (s, c) in enumerate(stats_lines):
    text(418, 392 + i * 18.1, s, size=18, color=c)

fig.update_layout(annotations=ann)
fig.write_html("out.html")
